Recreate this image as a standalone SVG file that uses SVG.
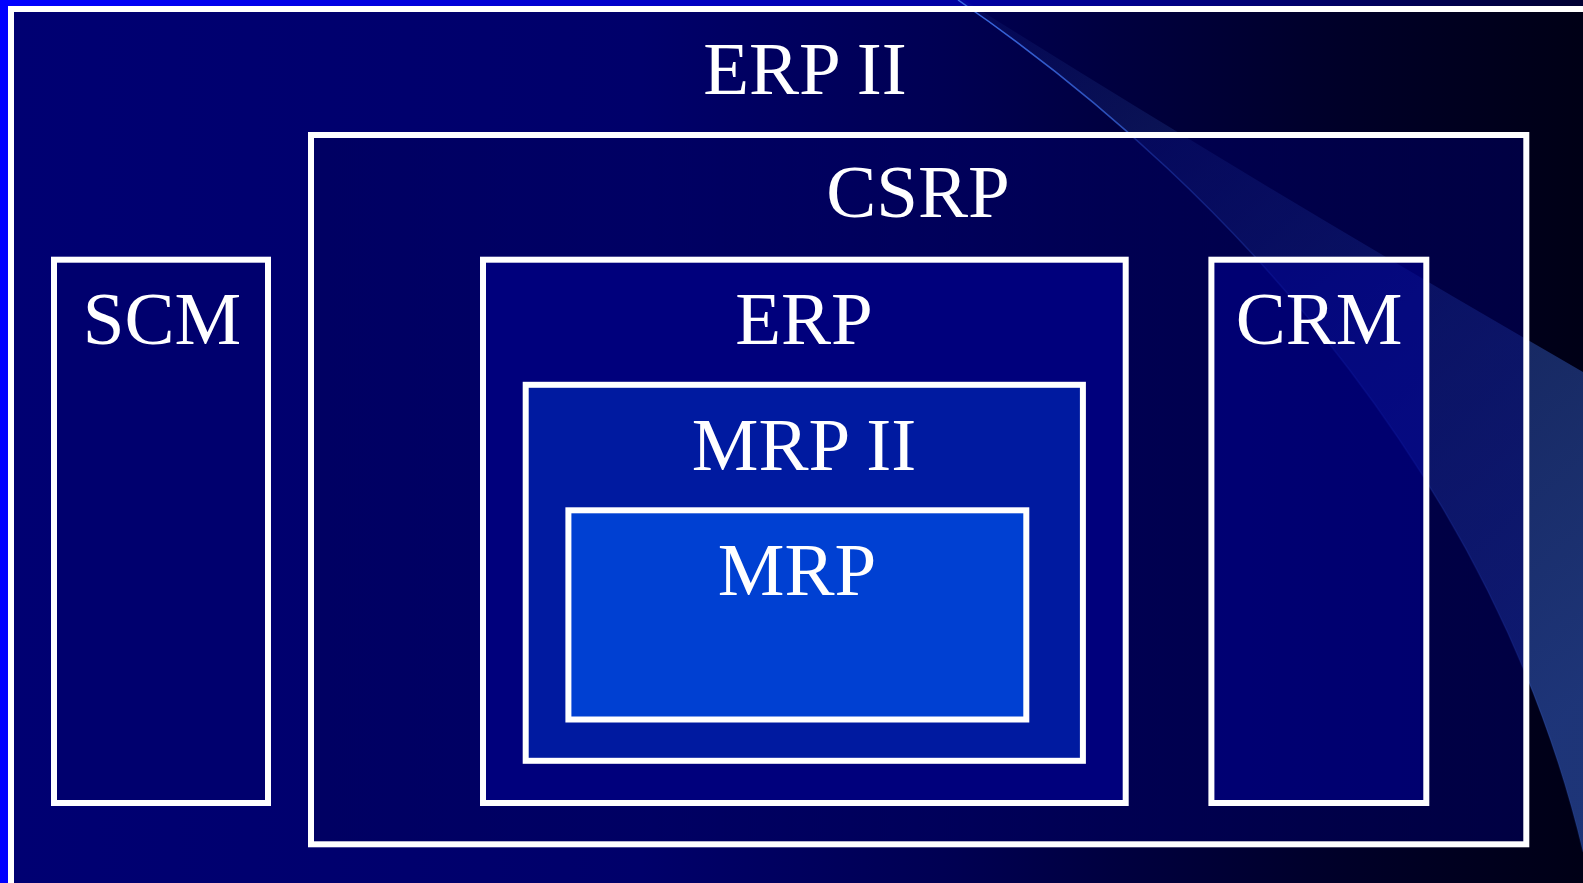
<svg xmlns="http://www.w3.org/2000/svg" width="1583" height="883" viewBox="0 0 1583 883">
  <defs>
    <linearGradient id="slideBg" gradientUnits="userSpaceOnUse" x1="0" y1="0" x2="1583" y2="0">
      <stop offset="0" stop-color="#0000ff"/>
      <stop offset="0.4" stop-color="#0000c8"/>
      <stop offset="0.7" stop-color="#000090"/>
      <stop offset="1" stop-color="#000032"/>
    </linearGradient>
    <linearGradient id="frameBg" gradientUnits="userSpaceOnUse" x1="14" y1="0" x2="1583" y2="0">
      <stop offset="0" stop-color="#000072"/>
      <stop offset="0.4" stop-color="#00006a"/>
      <stop offset="0.6" stop-color="#000052"/>
      <stop offset="0.7" stop-color="#000040"/>
      <stop offset="0.85" stop-color="#000028"/>
      <stop offset="1" stop-color="#000016"/>
    </linearGradient>
    <linearGradient id="bandFill" gradientUnits="userSpaceOnUse" x1="960" y1="0" x2="1583" y2="700">
      <stop offset="0" stop-color="#2d50aa" stop-opacity="0.08"/>
      <stop offset="0.2" stop-color="#2d50aa" stop-opacity="0.2"/>
      <stop offset="0.6" stop-color="#2d50aa" stop-opacity="0.48"/>
      <stop offset="1" stop-color="#2d50aa" stop-opacity="0.66"/>
    </linearGradient>
    <linearGradient id="bandLine" gradientUnits="userSpaceOnUse" x1="958" y1="0" x2="1583" y2="850">
      <stop offset="0" stop-color="#3d6ee8" stop-opacity="0.95"/>
      <stop offset="0.35" stop-color="#3d6ee8" stop-opacity="0.45"/>
      <stop offset="1" stop-color="#3d6ee8" stop-opacity="0.1"/>
    </linearGradient>
    <linearGradient id="csrpFill" x1="0" y1="0" x2="1" y2="0">
      <stop offset="0" stop-color="#000058"/>
      <stop offset="1" stop-color="#00006a"/>
    </linearGradient>
  </defs>
  <style>
    .box { stroke: #ffffff; stroke-width: 6; }
    .lbl { font-family: "Liberation Serif", "Times New Roman", serif; font-size: 75px; fill: #ffffff; text-anchor: middle; }
  </style>

  <!-- slide background and frame -->
  <rect x="0" y="0" width="1583" height="883" fill="url(#slideBg)"/>
  <rect x="11" y="9" width="1590" height="890" fill="url(#frameBg)"/>
  <!-- decorative swoosh -->
  <path d="M958,0 L964,0 Q1250,180 1583,372 L1583,852 C1500,500 1250,200 958,0 Z" fill="url(#bandFill)"/>
  <path d="M958,0 C1250,200 1500,500 1583,852" fill="none" stroke="url(#bandLine)" stroke-width="1.5"/>
  <rect x="11" y="9" width="1590" height="890" fill="none" class="box"/>

  <g id="erp2">
    <text class="lbl" x="805" y="93.5">ERP II</text>
  </g>

  <g id="csrp">
    <rect class="box" x="311" y="135" width="1215.3" height="709.3" fill="url(#csrpFill)" fill-opacity="0.5"/>
    <text class="lbl" x="918" y="217">CSRP</text>
  </g>

  <g id="scm">
    <rect class="box" x="54" y="259.7" width="214" height="543.3" fill="#00006e"/>
    <text class="lbl" x="162" y="344">SCM</text>
  </g>

  <g id="crm">
    <rect class="box" x="1211.4" y="259.7" width="214.9" height="543.3" fill="#000098" fill-opacity="0.5"/>
    <text class="lbl" x="1319" y="344">CRM</text>
  </g>

  <g id="erp">
    <rect class="box" x="483" y="259.7" width="642.7" height="543.3" fill="#00007c"/>
    <text class="lbl" x="804" y="344">ERP</text>
  </g>

  <g id="mrp2">
    <rect class="box" x="525.7" y="384.8" width="557.2" height="376" fill="#001aa0"/>
    <text class="lbl" x="804" y="470">MRP II</text>
  </g>

  <g id="mrp">
    <rect class="box" x="568.4" y="510.3" width="457.9" height="209.2" fill="#0040d2"/>
    <text class="lbl" x="797" y="595">MRP</text>
  </g>

  <g id="connectors"></g>
</svg>
